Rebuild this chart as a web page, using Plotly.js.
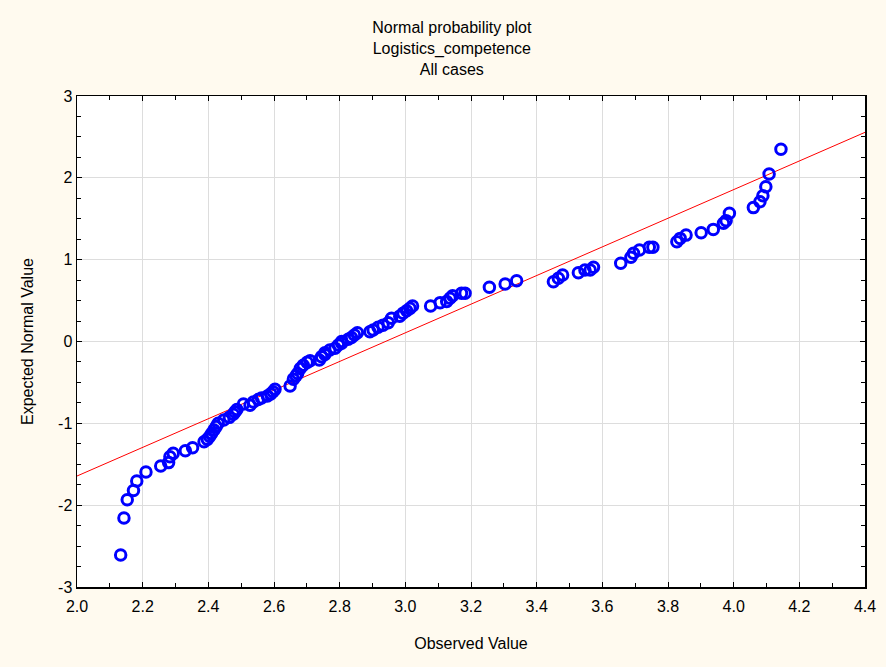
<!DOCTYPE html>
<html>
<head>
<meta charset="utf-8">
<script src="https://cdn.plot.ly/plotly-3.0.1.min.js"></script>
<style>html,body{margin:0;padding:0;background:#FFFAEF;}#chart{width:886px;height:667px;}</style>
</head>
<body>
<div id="chart"></div>
<script>
var observed = [2.133,2.143,2.153,2.172,2.182,2.21,2.255,2.279,2.283,2.293,2.33,2.352,2.387,2.397,2.404,2.41,2.417,2.424,2.43,2.447,2.464,2.476,2.481,2.487,2.507,2.527,2.537,2.552,2.562,2.58,2.59,2.597,2.603,2.649,2.659,2.667,2.672,2.68,2.689,2.701,2.71,2.738,2.745,2.755,2.755,2.77,2.786,2.796,2.806,2.806,2.826,2.836,2.845,2.854,2.892,2.902,2.917,2.932,2.948,2.958,2.983,2.993,3.004,3.014,3.022,3.077,3.106,3.126,3.136,3.144,3.171,3.182,3.256,3.304,3.339,3.451,3.466,3.479,3.527,3.547,3.563,3.573,3.656,3.687,3.695,3.713,3.743,3.754,3.827,3.837,3.855,3.901,3.938,3.969,3.977,3.987,4.06,4.08,4.089,4.098,4.108,4.144];
var expected = [-2.61,-2.158,-1.934,-1.82,-1.705,-1.595,-1.522,-1.48,-1.408,-1.367,-1.335,-1.298,-1.225,-1.196,-1.16,-1.123,-1.082,-1.04,-1.0,-0.96,-0.927,-0.89,-0.86,-0.83,-0.764,-0.78,-0.74,-0.71,-0.69,-0.666,-0.64,-0.613,-0.585,-0.544,-0.46,-0.42,-0.39,-0.33,-0.29,-0.255,-0.235,-0.226,-0.185,-0.16,-0.137,-0.104,-0.083,-0.043,-0.02,0.0,0.027,0.05,0.08,0.108,0.12,0.14,0.173,0.2,0.23,0.283,0.31,0.345,0.377,0.405,0.434,0.434,0.475,0.49,0.528,0.56,0.59,0.59,0.663,0.703,0.743,0.731,0.773,0.813,0.84,0.874,0.874,0.907,0.956,1.03,1.078,1.118,1.152,1.152,1.22,1.26,1.30,1.33,1.37,1.445,1.477,1.567,1.636,1.709,1.782,1.892,2.048,2.35];
var refLineX = [2.0, 4.4];
var refLineY = [-1.644, 2.556];
var xTickVals = [2.0,2.2,2.4,2.6,2.8,3.0,3.2,3.4,3.6,3.8,4.0,4.2,4.4];
var yTickVals = [-3,-2,-1,0,1,2,3];
var yTickText = ['-3','-2','-1','0','1','2','3'];

var font = {family: 'Arial, "Liberation Sans", sans-serif', size: 16, color: '#000'};

var traces = [
  {x: refLineX, y: refLineY, mode: 'lines', line: {color: '#FF0000', width: 1}, hoverinfo: 'skip', showlegend: false},
  {x: observed, y: expected, mode: 'markers', showlegend: false,
   marker: {symbol: 'circle-open', size: 10.5, color: '#0000FF', line: {width: 3, color: '#0000FF'}}}
];

var axisCommon = {
  showline: true, linecolor: '#000', linewidth: 1.5, mirror: 'allticks',
  ticks: 'inside', ticklen: 5, tickcolor: '#000', tickwidth: 1,
  showgrid: true, gridcolor: '#DDDDDD', gridwidth: 1, zeroline: false,
  tickfont: font
};

var layout = {
  width: 886, height: 667,
  paper_bgcolor: '#FFFAEF', plot_bgcolor: '#FFFFFF',
  margin: {l: 77, r: 21, t: 96, b: 80},
  font: font,
  title: {text: 'Normal probability plot<br>Logistics_competence<br>All cases', x: 0.51, xanchor: 'center', y: 0.95, yanchor: 'middle', font: {family: font.family, size: 16, color: '#000'}},
  xaxis: Object.assign({}, axisCommon, {
    range: [2.0, 4.4], tickmode: 'array', tickvals: xTickVals, tickformat: '.1f',
    ticklabelstandoff: 4,
    minor: {dtick: 0.1, tick0: 2.0, ticks: 'inside', ticklen: 4, tickcolor: '#000', showgrid: false},
    title: {text: 'Observed Value', font: font, standoff: 24}
  }),
  yaxis: Object.assign({}, axisCommon, {
    range: [-3, 3], tickmode: 'array', tickvals: yTickVals, ticktext: yTickText,
    minor: {dtick: 0.25, tick0: 0, ticks: 'inside', ticklen: 4, tickcolor: '#000', showgrid: false},
    title: {text: 'Expected Normal Value', font: font, standoff: 20}
  })
};

Plotly.newPlot('chart', traces, layout, {displayModeBar: false, staticPlot: true});
</script>
</body>
</html>
